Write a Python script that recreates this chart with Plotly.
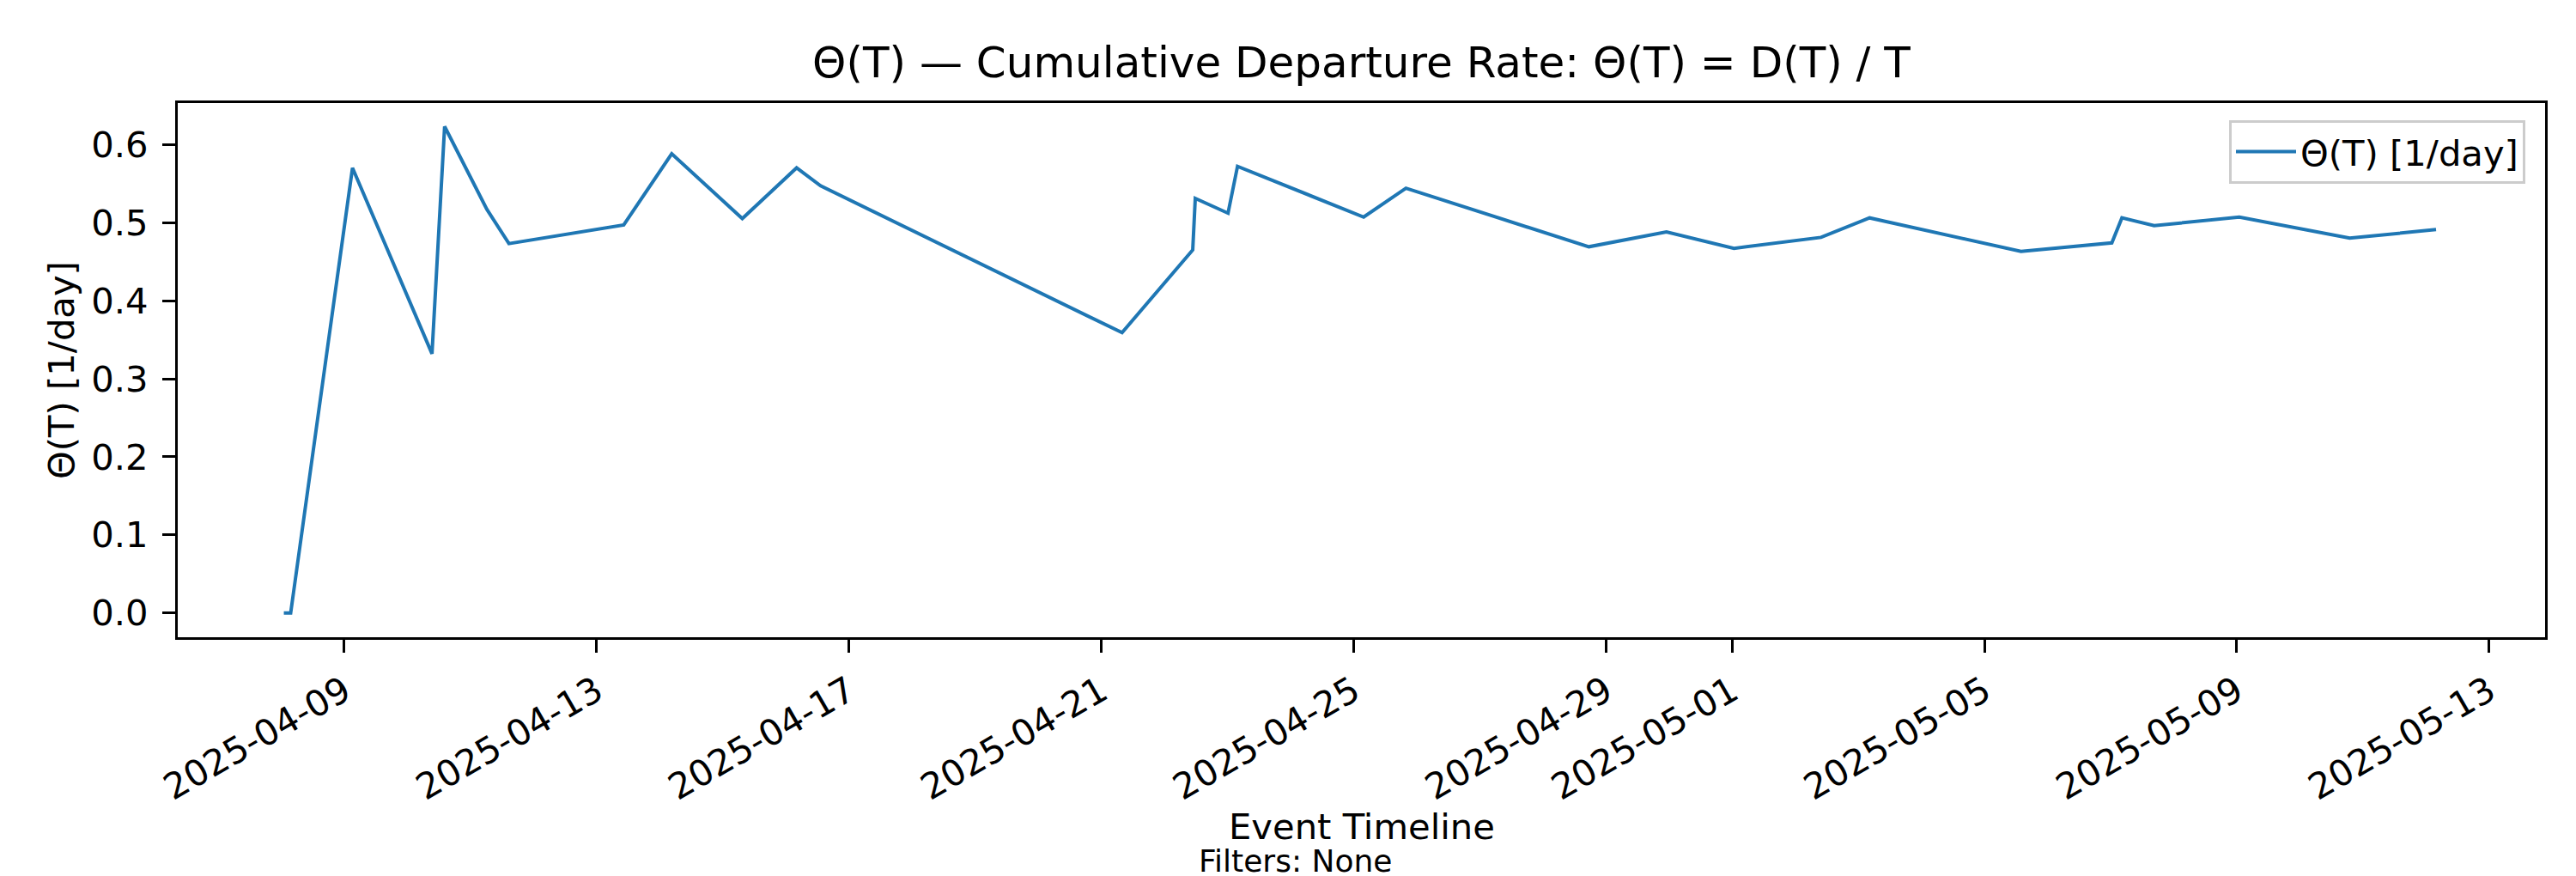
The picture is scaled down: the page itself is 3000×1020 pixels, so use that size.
import plotly.graph_objects as go

# cumulative departure rate
timestamps = [
    "2025-04-08 01:00", "2025-04-08 03:36", "2025-04-09 03:07", "2025-04-10 09:22",
    "2025-04-10 14:10", "2025-04-11 06:14", "2025-04-11 14:38", "2025-04-13 10:19",
    "2025-04-14 04:34", "2025-04-15 07:26", "2025-04-16 04:05", "2025-04-16 13:12",
    "2025-04-21 07:55", "2025-04-22 10:48", "2025-04-22 11:46", "2025-04-23 00:14",
    "2025-04-23 03:50", "2025-04-25 03:50", "2025-04-25 19:55", "2025-04-28 17:31",
    "2025-04-29 23:02", "2025-05-01 00:43", "2025-05-02 09:50", "2025-05-03 04:19",
    "2025-05-05 13:55", "2025-05-07 00:29", "2025-05-07 04:19", "2025-05-07 16:34",
    "2025-05-09 00:58", "2025-05-10 18:58", "2025-05-12 03:50",
]
theta = [
    0.0, 0.0, 0.570, 0.332,
    0.623, 0.517, 0.473, 0.497,
    0.588, 0.505, 0.570, 0.547,
    0.359, 0.465, 0.531, 0.512,
    0.572, 0.507, 0.544, 0.469,
    0.488, 0.467, 0.481, 0.506,
    0.463, 0.474, 0.506, 0.496,
    0.507, 0.480, 0.491,
]

tick_dates = ["2025-04-09", "2025-04-13", "2025-04-17", "2025-04-21", "2025-04-25",
              "2025-04-29", "2025-05-01", "2025-05-05", "2025-05-09", "2025-05-13"]

FONT = "DejaVu Sans"
W, H = 3000, 1020
L, R, T, B = 199, 44, 112, 286
plot_w = W - L - R
plot_h = H - T - B

fig = go.Figure()
fig.add_trace(go.Scatter(
    x=timestamps, y=theta, mode="lines", name="Θ(T) [1/day]",
    line=dict(color="#1f77b4", width=4),
))

axis_style = dict(
    showline=True, linecolor="black", linewidth=3.3, mirror=True,
    ticks="outside", ticklen=15, tickwidth=3.3, tickcolor="black",
    showgrid=False, zeroline=False,
    tickfont=dict(family=FONT, size=41.7, color="black"),
)

fig.update_layout(
    width=W, height=H,
    margin=dict(l=L, r=R, t=T, b=B),
    paper_bgcolor="white", plot_bgcolor="white",
    font=dict(family=FONT, color="black"),
    title=dict(
        text="Θ(T) — Cumulative Departure Rate: Θ(T) = D(T) / T",
        font=dict(family=FONT, size=50, color="black"),
        x=0.5, xref="paper", xanchor="center",
        y=1 - 64 / H, yref="container", yanchor="middle",
    ),
    xaxis=dict(
        axis_style, type="date",
        range=["2025-04-06 08:38", "2025-05-13 21:19"],
        tickvals=tick_dates, ticktext=tick_dates, tickangle=-30,
        ticklabelstandoff=4,
    ),
    yaxis=dict(
        axis_style, range=[-0.031, 0.653],
        tickvals=[0, 0.1, 0.2, 0.3, 0.4, 0.5, 0.6], tickformat=".1f",
        ticklabelstandoff=8,
    ),
    showlegend=True,
    legend=dict(
        x=(2933 - L) / plot_w, y=(H - B - 132) / plot_h,
        xanchor="right", yanchor="top",
        bgcolor="white", bordercolor="#cccccc", borderwidth=3,
        itemwidth=70,
        font=dict(family=FONT, size=41.7, color="black"),
    ),
    annotations=[
        dict(text="Θ(T) [1/day]", textangle=-90, showarrow=False,
             xref="paper", yref="paper", x=(63 - L) / plot_w, y=0.5,
             xanchor="center", yanchor="middle",
             font=dict(family=FONT, size=41.7, color="black")),
        dict(text="Event Timeline", showarrow=False,
             xref="paper", yref="paper", x=0.5, y=(H - B - 955) / plot_h,
             xanchor="center", yanchor="middle",
             font=dict(family=FONT, size=41.7, color="black")),
        dict(text="Filters: None", showarrow=False,
             xref="paper", yref="paper", x=(1500 - L) / plot_w, y=(H - B - 994) / plot_h,
             xanchor="center", yanchor="middle",
             font=dict(family=FONT, size=36, color="black")),
    ],
)

fig.write_html("out.html")
